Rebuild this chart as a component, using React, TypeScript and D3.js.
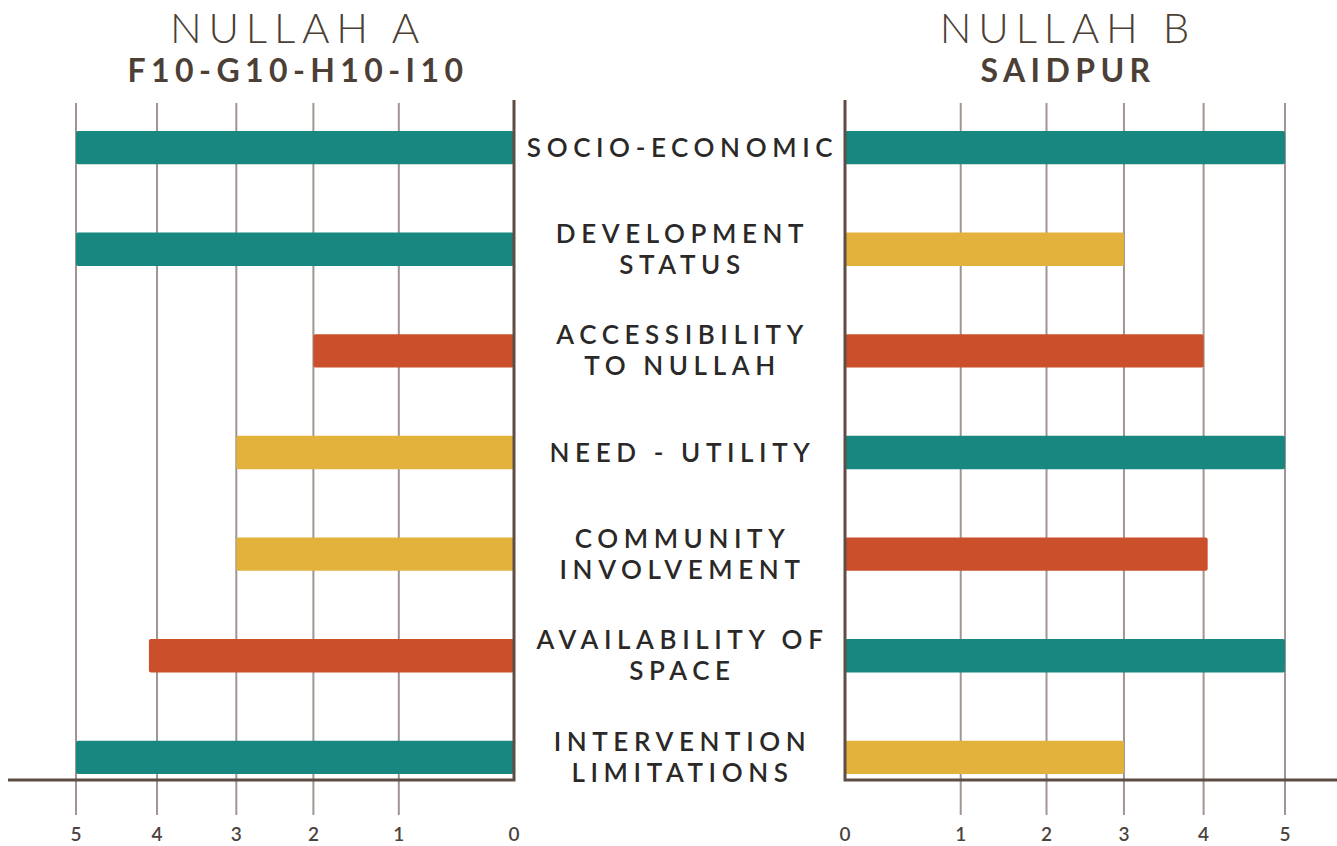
import React, { useEffect, useRef } from 'react';
import * as d3 from 'd3';

// criteria, top to bottom
const categories = [
  'SOCIO-ECONOMIC',
  'DEVELOPMENT\nSTATUS',
  'ACCESSIBILITY\nTO NULLAH',
  'NEED - UTILITY',
  'COMMUNITY\nINVOLVEMENT',
  'AVAILABILITY OF\nSPACE',
  'INTERVENTION\nLIMITATIONS',
];

const nullahAValues = [5, 5, 2, 3, 3, 4.1, 5];
const nullahBValues = [5, 3, 4, 5, 4.05, 5, 3];

// rating colour keys per bar
const nullahARating = ['high', 'high', 'low', 'mid', 'mid', 'low', 'high'];
const nullahBRating = ['high', 'mid', 'low', 'high', 'low', 'high', 'mid'];

const tickValues = [0, 1, 2, 3, 4, 5];
// the printed axis is not evenly spaced: share of panel width at each tick
const tickShare = [0, 0.263, 0.458, 0.634, 0.815, 1];

const panels = [
  { title: 'NULLAH A', subtitle: 'F10-G10-H10-I10', values: nullahAValues, rating: nullahARating, side: 'left' },
  { title: 'NULLAH B', subtitle: 'SAIDPUR', values: nullahBValues, rating: nullahBRating, side: 'right' },
];

const colors: Record<string, string> = { high: '#17877f', mid: '#e3b23c', low: '#cc4f2b' };

const App = () => {
  const ref = useRef<SVGSVGElement | null>(null);

  useEffect(() => {
    document.body.style.margin = '0';
    const svgWidth = 1337, svgHeight = 846;
    const svg = d3.select(ref.current).attr('width', svgWidth).attr('height', svgHeight);
    svg.selectAll('*').remove();

    const font = 'Lato, "Open Sans", sans-serif';
    const baseY = 780;
    const topY = 100;
    const gridBottom = 815;

    const y = d3.scaleBand<string>()
      .domain(categories)
      .range([131, 774])
      .paddingInner(0.672)
      .paddingOuter(0);

    svg.append('rect').attr('width', svgWidth).attr('height', svgHeight).attr('fill', '#ffffff');

    panels.forEach(p => {
      const zero = p.side === 'left' ? 514 : 845;
      const full = p.side === 'left' ? 76 : 1285;
      const x = d3.scaleLinear()
        .domain(tickValues)
        .range(tickShare.map(s => zero + (full - zero) * s));

      const g = svg.append('g');

      // gridlines
      g.selectAll('.grid')
        .data(tickValues.filter(t => t > 0))
        .enter().append('line')
        .attr('x1', d => x(d)).attr('x2', d => x(d))
        .attr('y1', topY + 3).attr('y2', gridBottom)
        .attr('stroke', '#a09591')
        .attr('stroke-width', 2);

      // bars
      const bars = p.values.map((v, i) => ({ cat: categories[i], v, r: p.rating[i] }));
      g.selectAll('.bar')
        .data(bars)
        .enter().append('rect')
        .attr('x', d => Math.min(x(0), x(d.v)))
        .attr('width', d => Math.abs(x(d.v) - x(0)))
        .attr('y', d => y(d.cat) as number)
        .attr('height', y.bandwidth())
        .attr('rx', 2)
        .attr('fill', d => colors[d.r]);

      // vertical axis line + its piece of the baseline
      const outer = p.side === 'left' ? 8 : svgWidth;
      g.append('path')
        .attr('d', `M${zero},${topY}V${baseY}H${outer}`)
        .attr('fill', 'none')
        .attr('stroke', '#5e4d45')
        .attr('stroke-width', 3);

      // tick labels
      g.selectAll('.tick')
        .data(tickValues)
        .enter().append('text')
        .attr('x', d => x(d))
        .attr('y', 841)
        .attr('text-anchor', 'middle')
        .attr('font-family', font)
        .attr('font-weight', 600)
        .attr('font-size', 19)
        .attr('fill', '#4a4340')
        .text(d => d);

      const cx = (zero + full) / 2;
      g.append('text')
        .attr('x', cx + 3).attr('y', 43)
        .attr('text-anchor', 'middle')
        .attr('font-family', font)
        .attr('font-weight', 300)
        .attr('font-size', 42)
        .attr('letter-spacing', 6.8)
        .attr('fill', '#4b3f36')
        .text(p.title);
      g.append('text')
        .attr('x', cx + 3).attr('y', 82)
        .attr('text-anchor', 'middle')
        .attr('font-family', font)
        .attr('font-weight', 700)
        .attr('font-size', 32)
        .attr('letter-spacing', 5.4)
        .attr('fill', '#4b3f36')
        .text(p.subtitle);
    });

    // centre category labels
    const labelX = (514 + 845) / 2;
    categories.forEach(c => {
      const lines = c.split('\n');
      const mid = (y(c) as number) + y.bandwidth() / 2;
      const lh = 31;
      const t = svg.append('text')
        .attr('text-anchor', 'middle')
        .attr('font-family', font)
        .attr('font-weight', 600)
        .attr('font-size', 26)
        .attr('letter-spacing', 5.6)
        .attr('fill', '#2b2927');
      lines.forEach((l, i) => {
        t.append('tspan')
          .attr('x', labelX + 3)
          .attr('y', mid + (i - (lines.length - 1) / 2) * lh + 9)
          .text(l);
      });
    });
  }, []);

  return <svg ref={ref} style={{ display: 'block' }}></svg>;
};

export default App;
